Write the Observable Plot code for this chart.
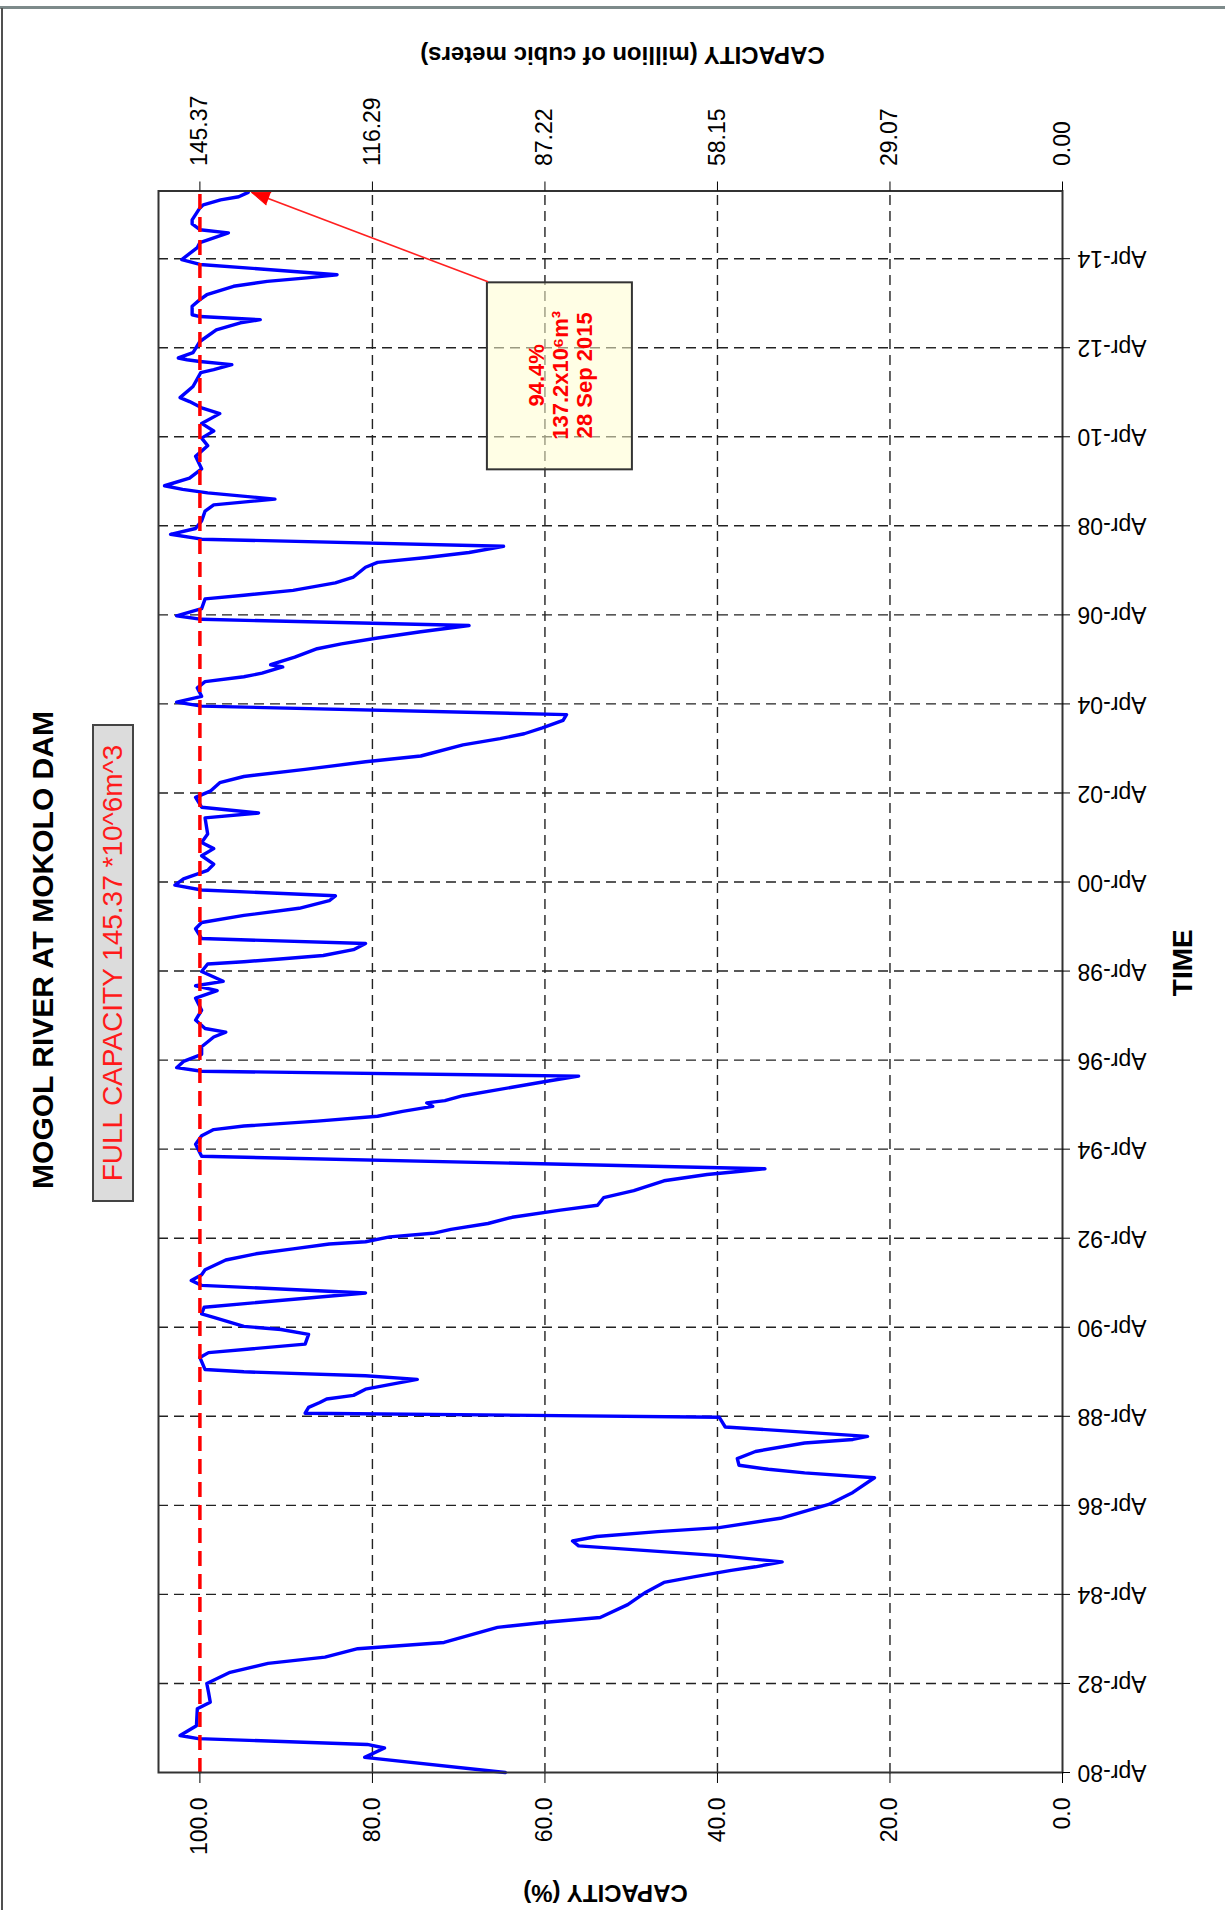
<!DOCTYPE html>
<html>
<head>
<meta charset="utf-8">
<script src="https://cdn.jsdelivr.net/npm/d3@7"></script>
<script src="https://cdn.jsdelivr.net/npm/@observablehq/plot@0.6"></script>
<style>
html,body{margin:0;padding:0;background:#fff;overflow:hidden;}
body{width:1225px;height:1910px;position:relative;font-family:"Liberation Sans",Arial,sans-serif;}
#land{position:absolute;left:0;top:0;width:1910px;height:1225px;transform-origin:0 0;transform:translate(0,1910px) rotate(-90deg);}
#chart{position:absolute;left:0;top:0;}
#title{position:absolute;left:960px;top:43px;transform:translate(-50%,-50%);font-weight:bold;font-size:30px;white-space:nowrap;color:#000;}
#sub{position:absolute;left:708px;top:92px;width:478px;height:42px;box-sizing:border-box;border:2px solid #444;background:#dcdcdc;color:#ff1a1a;font-size:28px;line-height:38px;text-align:center;white-space:nowrap;}
.topbar{position:absolute;left:0;top:6px;width:1225px;height:3px;background:#7d8a8a;}
.leftbar{position:absolute;left:1px;top:8px;width:2px;height:1902px;background:#505050;}
</style>
</head>
<body>
<div id="land">
  <div id="chart"></div>
  <div id="title">MOGOL RIVER AT MOKOLO DAM</div>
  <div id="sub">FULL CAPACITY 145.37 *10^6m^3</div>
</div>
<div class="topbar"></div>
<div class="leftbar"></div>
<script>
// Time in decimal years, storage in % of full capacity
const years = [
1980.25,1980.59,1980.80,1980.88,1981.01,1981.08,1981.30,1981.68,1981.83,1982.05,
1982.25,1982.50,1982.70,1982.84,1983.03,1983.17,1983.51,1983.62,1983.73,1984.02,
1984.30,1984.52,1984.65,1984.79,1984.87,1984.98,1985.12,1985.34,1985.45,1985.55,
1985.66,1985.75,1985.96,1986.27,1986.54,1986.87,1986.98,1987.06,1987.15,1987.30,
1987.46,1987.65,1987.73,1987.80,1988.01,1988.23,1988.32,1988.45,1988.56,1988.64,
1988.72,1988.86,1989.08,1989.16,1989.25,1989.30,1989.57,1989.68,1989.87,1990.09,
1990.20,1990.27,1990.47,1990.55,1990.70,1991.02,1991.19,1991.30,1991.43,1991.54,
1991.76,1991.90,1992.01,1992.12,1992.17,1992.28,1992.36,1992.45,1992.58,1992.72,
1992.88,1992.99,1993.16,1993.32,1993.54,1993.68,1993.76,1993.81,1994.09,1994.36,
1994.55,1994.69,1994.77,1994.88,1994.99,1995.10,1995.21,1995.29,1995.34,1995.45,
1995.64,1995.78,1995.89,1996.00,1996.08,1996.22,1996.38,1996.55,1996.77,1996.88,
1996.96,1997.15,1997.37,1997.64,1997.81,1997.92,1998.02,1998.24,1998.41,1998.46,
1998.52,1998.60,1998.73,1998.87,1998.98,1999.20,1999.34,1999.50,1999.66,1999.83,
1999.94,2000.07,2000.18,2000.32,2000.51,2000.65,2000.84,2001.00,2001.14,2001.33,
2001.69,2001.80,2001.93,2002.15,2002.29,2002.48,2002.62,2002.78,2002.95,2003.08,
2003.33,2003.47,2003.58,2003.71,2003.88,2004.01,2004.20,2004.29,2004.42,2004.61,
2004.75,2004.86,2004.94,2005.08,2005.13,2005.30,2005.49,2005.60,2005.73,2005.87,
2006.01,2006.15,2006.23,2006.39,2006.61,2006.69,2006.80,2006.97,2007.10,2007.32,
2007.43,2007.54,2007.65,2007.79,2007.95,2008.06,2008.19,2008.36,2008.58,2008.72,
2008.85,2008.99,2009.07,2009.15,2009.32,2009.53,2009.81,2010.05,2010.22,2010.38,
2010.55,2010.77,2010.90,2011.04,2011.13,2011.38,2011.69,2011.76,2011.87,2011.94,
2011.98,2012.02,2012.14,2012.39,2012.65,2012.81,2012.88,2012.95,2012.99,2013.18,
2013.33,2013.44,2013.63,2013.74,2013.82,2013.89,2014.12,2014.23,2014.50,2014.61,
2014.83,2014.90,2015.03,2015.12,2015.39,2015.46,2015.57,2015.64,2015.74
];
const percent = [
64.6,80.9,78.6,80.6,100.2,102.3,100.4,100.3,98.8,99.0,
99.2,96.5,92.1,85.5,81.7,71.7,65.5,60.2,53.6,50.4,
48.3,46.2,42.6,38.4,35.6,32.5,39.8,56.1,56.8,54.0,
46.9,39.8,32.7,27.1,24.3,21.8,29.9,34.1,37.5,37.7,
35.6,29.9,24.3,22.6,39.1,39.8,87.8,87.4,86.1,85.3,
82.2,80.8,74.8,80.8,94.9,99.4,100.0,99.0,87.8,87.4,
90.6,94.9,98.4,99.8,99.5,80.8,99.8,101.0,99.8,99.4,
97.0,93.5,89.2,85.0,80.8,78.0,73.0,70.9,66.6,63.8,
58.2,53.9,53.2,49.7,46.2,41.2,37.0,34.5,99.8,100.5,
99.8,98.4,94.9,86.4,79.4,76.5,73.0,73.7,71.6,69.5,
63.8,59.6,56.1,99.8,102.7,101.9,99.8,99.8,98.4,97.0,
99.4,100.5,99.8,100.5,98.0,100.5,97.3,99.8,99.1,94.9,
90.7,85.7,82.2,80.8,99.8,100.5,99.8,94.9,88.5,85.0,
84.3,99.8,102.9,101.9,99.1,98.4,99.8,98.4,99.8,99.1,
99.4,93.2,99.8,100.5,98.8,97.7,94.9,87.8,80.8,74.4,
69.5,65.2,62.4,60.3,57.9,57.5,99.8,102.7,99.8,100.3,
99.4,94.9,92.8,90.4,91.8,89.0,86.4,83.6,79.4,74.4,
68.8,99.8,102.7,99.8,99.4,94.9,89.2,84.3,82.2,80.8,
79.4,73.7,68.8,64.8,99.8,103.4,100.5,99.8,99.4,98.4,
91.3,99.1,102.0,104.1,101.2,99.8,100.5,99.1,99.8,98.4,
99.8,97.7,99.8,101.2,102.3,100.8,99.9,98.4,96.3,100.0,
101.5,102.5,100.8,100.0,98.1,95.3,93.0,100.0,100.9,100.9,
100.0,99.2,96.1,92.2,87.6,84.1,100.0,102.1,100.3,100.0,
96.7,100.0,100.9,100.9,100.0,99.6,97.6,95.5,94.4
];

const timeTicks = [1980.25,1982.25,1984.25,1986.25,1988.25,1990.25,1992.25,1994.25,1996.25,
  1998.25,2000.25,2002.25,2004.25,2006.25,2008.25,2010.25,2012.25,2014.25];
const timeLabels = ["Apr-80","Apr-82","Apr-84","Apr-86","Apr-88","Apr-90","Apr-92","Apr-94","Apr-96",
  "Apr-98","Apr-00","Apr-02","Apr-04","Apr-06","Apr-08","Apr-10","Apr-12","Apr-14"];
const pctTicks = [0, 20, 40, 60, 80, 100];
const pctLabels = ["0.0", "20.0", "40.0", "60.0", "80.0", "100.0"];
const capLabels = ["0.00", "29.07", "58.15", "87.22", "116.29", "145.37"];
const fullCapacity = [100];

// annotation (data units: years, %)
const annotBox = [{x1: 2009.53, x2: 2013.73, y1: 49.86, y2: 66.67}];
const annotLines = ["94.4%", "137.2x10\u2076m\u00B3", "28 Sep 2015"];
const annotArrow = [{x1: 2013.73, y1: 66.6, x2: 2015.74, y2: 94.0}];

const data = years.map((t, i) => ({t, p: percent[i]}));
const FONT = "Liberation Sans, Arial, sans-serif";

const chart = Plot.plot({
  width: 1910,
  height: 1225,
  marginLeft: 137,
  marginRight: 191.5,
  marginTop: 158,
  marginBottom: 163,
  style: {fontFamily: FONT, fontSize: "23px", color: "#000", background: "transparent", overflow: "visible"},
  x: {domain: [1980.25, 2015.77], label: null},
  y: {domain: [0, 104.8], label: null},
  marks: [
    Plot.ruleX(timeTicks.slice(1), {stroke: "#222", strokeWidth: 1.4, strokeDasharray: "10,6"}),
    Plot.ruleY(pctTicks.filter(d => d > 0 && d < 100), {stroke: "#222", strokeWidth: 1.4, strokeDasharray: "10,6"}),
    Plot.rect(annotBox, {x1: "x1", x2: "x2", y1: "y1", y2: "y2", fill: "#fffdd0", fillOpacity: 0.55, stroke: "#333", strokeWidth: 2}),
    Plot.text([annotLines.join("\n")], {
      x: annotBox[0].x1 / 2 + annotBox[0].x2 / 2, y: annotBox[0].y1 / 2 + annotBox[0].y2 / 2,
      text: d => d, fill: "#ff0000", fontSize: 22, fontWeight: "bold", lineHeight: 1.09, textAnchor: "middle"
    }),
    Plot.link(annotArrow, {x1: "x1", y1: "y1", x2: "x2", y2: "y2", stroke: "#ff2020", strokeWidth: 1.6}),
    Plot.vector([annotArrow[0]], {x: "x2", y: "y2", rotate: 20.7, length: 18, shape: "spike", r: 6.5, anchor: "end", fill: "#ff0000", stroke: "#ff0000", strokeWidth: 1}),
    Plot.line(data, {x: "t", y: "p", stroke: "#0000ff", strokeWidth: 3.4, strokeLinejoin: "round", curve: "linear"}),
    Plot.ruleY(fullCapacity, {stroke: "#ff0000", strokeWidth: 3.5, strokeDasharray: "15,8"}),
    Plot.frame({stroke: "#333", strokeWidth: 2}),
    Plot.axisX(timeTicks, {anchor: "bottom", label: null, tickFormat: d => timeLabels[timeTicks.indexOf(d)],
      tickRotate: -90, tickSize: 8, tickPadding: 7, fontSize: 23, textAnchor: "end", lineAnchor: "middle"}),
    Plot.axisY(pctTicks, {anchor: "left", label: null, tickFormat: d => pctLabels[pctTicks.indexOf(d)],
      tickSize: 10, tickPadding: 15, fontSize: 23}),
    Plot.axisY(pctTicks, {anchor: "right", label: null, tickFormat: d => capLabels[pctTicks.indexOf(d)],
      tickSize: 9, tickPadding: 16, fontSize: 23}),
    Plot.text(["CAPACITY (%)"], {text: d => d, frameAnchor: "left", dx: -120, dy: -5, rotate: -90,
      fontWeight: "bold", fontSize: 24, textAnchor: "middle", lineAnchor: "middle"}),
    Plot.text(["CAPACITY (million of cubic meters)"], {text: d => d, frameAnchor: "right", dx: 136.5, dy: 12, rotate: -90,
      fontWeight: "bold", fontSize: 24, textAnchor: "middle", lineAnchor: "middle"}),
    Plot.text(["TIME"], {text: d => d, frameAnchor: "bottom", dx: 19, dy: 121,
      fontWeight: "bold", fontSize: 28, textAnchor: "middle", lineAnchor: "middle"})
  ]
});
document.getElementById("chart").appendChild(chart);
</script>
</body>
</html>
